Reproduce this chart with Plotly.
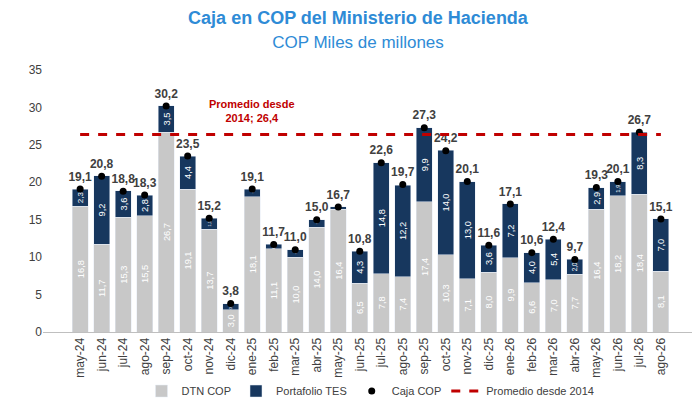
import plotly.graph_objects as go

months = ["may-24","jun-24","jul-24","ago-24","sep-24","oct-24","nov-24","dic-24","ene-25","feb-25","mar-25","abr-25","may-25","jun-25","jul-25","ago-25","sep-25","oct-25","nov-25","dic-25","ene-26","feb-26","mar-26","abr-26","may-26","jun-26","jul-26","ago-26"]
dtn = [16.8,11.7,15.3,15.5,26.7,19.1,13.7,3.0,18.1,11.1,10.0,14.0,16.4,6.5,7.8,7.4,17.4,10.3,7.1,8.0,9.9,6.6,7.0,7.7,16.4,18.2,18.4,8.1]
tes = [2.3,9.2,3.6,2.8,3.5,4.4,1.5,0.8,1.0,0.6,1.0,1.0,0.3,4.3,14.8,12.2,9.9,14.0,13.0,3.6,7.2,4.0,5.4,2.0,2.9,1.9,8.3,7.0]
caja = [19.1,20.8,18.8,18.3,30.2,23.5,15.2,3.8,19.1,11.7,11.0,15.0,16.7,10.8,22.6,19.7,27.3,24.2,20.1,11.6,17.1,10.6,12.4,9.7,19.3,20.1,26.7,15.1]
promedio = 26.4

fmt = lambda v: f"{v:.1f}".replace(".", ",")
fig = go.Figure()
fig.add_bar(x=months, y=dtn, name="DTN COP", marker_color="#c8c8c8",
            text=[fmt(v) for v in dtn], textposition="inside", textangle=-90,
            insidetextanchor="middle", textfont=dict(color="white", size=11))
fig.add_bar(x=months, y=tes, name="Portafolio TES", marker_color="#17375e",
            text=[fmt(v) for v in tes], textposition="inside", textangle=-90,
            insidetextanchor="middle", textfont=dict(color="white", size=11))
fig.add_scatter(x=months, y=caja, name="Caja COP", mode="markers+text",
                marker=dict(color="black", size=7),
                text=[f"<b>{fmt(v)}</b>" for v in caja], textposition="top center",
                textfont=dict(color="#404040", size=12))
fig.add_scatter(x=months, y=[promedio]*len(months), name="Promedio desde 2014", mode="lines",
                line=dict(color="#c00000", width=3, dash="dash"))
fig.add_annotation(x=8, y=29.5, text="<b>Promedio desde<br>2014; 26,4</b>", showarrow=False,
                   font=dict(color="#c00000", size=11), xref="x", yref="y")
fig.update_layout(
    width=700, height=408, barmode="stack", bargap=0.25,
    paper_bgcolor="white", plot_bgcolor="white",
    font=dict(family="Liberation Sans, Arial", size=12, color="#404040"),
    title=dict(text="<b>Caja en COP del Ministerio de Hacienda</b><br><span style='font-size:17px'>COP Miles de millones</span>",
               x=0.5, y=0.96, font=dict(size=18, color="#2e8bd6")),
    margin=dict(l=35, r=10, t=62, b=60),
    legend=dict(orientation="h", x=0.5, xanchor="center", y=-0.17, font=dict(size=11),
                traceorder="normal"),
    xaxis=dict(tickangle=-90, showline=True, linecolor="#bfbfbf"),
    yaxis=dict(range=[0, 35], dtick=5, showgrid=False, showline=False),
)
fig.write_html("out.html")
